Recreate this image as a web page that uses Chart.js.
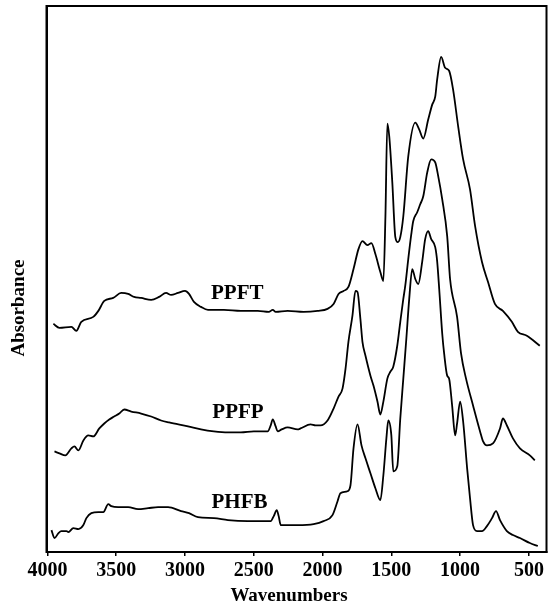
<!DOCTYPE html>
<html>
<head>
<meta charset="utf-8">
<script src="https://cdn.jsdelivr.net/npm/chart.js@4.4.1/dist/chart.umd.min.js"></script>
<style>
  html, body { margin: 0; padding: 0; background: #fff; }
  #spectra { display: block; }
</style>
</head>
<body>
<canvas id="spectra" width="551" height="604"></canvas>
<script>
// tick labels of the wavenumber axis
const wavenumberTicks = [4000, 3500, 3000, 2500, 2000, 1500, 1000, 500];

// PPFT spectrum (cm-1, absorbance in arbitrary offset units)
const ppftWave = [3957, 3913, 3826, 3790, 3754, 3667, 3630, 3587, 3522, 3464, 3413, 3370, 3319, 3246, 3188, 3138, 3101, 3051, 3000, 2971, 2935, 2884, 2833, 2717, 2594, 2471, 2391, 2362, 2341, 2254, 2138, 2036, 1964, 1920, 1884, 1848, 1812, 1775, 1739, 1710, 1674, 1645, 1616, 1580, 1558, 1543, 1529, 1515, 1493, 1471, 1453, 1435, 1413, 1377, 1326, 1297, 1268, 1232, 1203, 1181, 1167, 1138, 1109, 1080, 1051, 1014, 978, 928, 891, 841, 797, 747, 689, 624, 580, 515, 421];
const ppftAbs = [2.28, 2.24, 2.25, 2.21, 2.30, 2.35, 2.41, 2.51, 2.54, 2.59, 2.58, 2.55, 2.54, 2.52, 2.55, 2.59, 2.57, 2.59, 2.61, 2.58, 2.50, 2.45, 2.42, 2.42, 2.41, 2.41, 2.40, 2.42, 2.40, 2.41, 2.40, 2.41, 2.43, 2.48, 2.58, 2.61, 2.65, 2.83, 3.03, 3.11, 3.07, 3.09, 2.98, 2.80, 2.71, 3.36, 4.29, 4.16, 3.70, 3.15, 3.10, 3.15, 3.36, 3.96, 4.30, 4.23, 4.14, 4.33, 4.48, 4.56, 4.73, 4.96, 4.85, 4.82, 4.63, 4.26, 3.93, 3.63, 3.26, 2.90, 2.70, 2.48, 2.41, 2.30, 2.20, 2.16, 2.06];

// PPFP spectrum
const ppfpWave = [3949, 3913, 3870, 3826, 3804, 3775, 3739, 3703, 3667, 3623, 3587, 3551, 3515, 3478, 3442, 3391, 3319, 3246, 3174, 3116, 2978, 2884, 2790, 2688, 2594, 2500, 2399, 2377, 2362, 2341, 2326, 2297, 2254, 2181, 2160, 2087, 2051, 2015, 1964, 1920, 1884, 1855, 1833, 1812, 1783, 1761, 1746, 1725, 1710, 1688, 1652, 1630, 1601, 1580, 1558, 1529, 1507, 1486, 1457, 1435, 1413, 1399, 1377, 1355, 1341, 1312, 1290, 1268, 1239, 1210, 1181, 1159, 1130, 1094, 1073, 1022, 993, 957, 906, 855, 833, 805, 761, 710, 689, 660, 616, 565, 493, 457];
const ppfpAbs = [1.00, 0.98, 0.96, 1.03, 1.05, 1.01, 1.11, 1.16, 1.15, 1.23, 1.28, 1.32, 1.35, 1.38, 1.42, 1.40, 1.38, 1.35, 1.31, 1.29, 1.25, 1.22, 1.20, 1.19, 1.19, 1.20, 1.20, 1.26, 1.32, 1.25, 1.20, 1.22, 1.24, 1.22, 1.23, 1.27, 1.26, 1.26, 1.31, 1.43, 1.55, 1.63, 1.83, 2.10, 2.36, 2.61, 2.60, 2.33, 2.10, 1.96, 1.76, 1.66, 1.50, 1.37, 1.50, 1.73, 1.80, 1.85, 2.06, 2.30, 2.53, 2.66, 2.93, 3.18, 3.31, 3.40, 3.48, 3.56, 3.80, 3.93, 3.90, 3.76, 3.53, 3.16, 2.73, 2.35, 1.98, 1.73, 1.46, 1.20, 1.10, 1.06, 1.08, 1.23, 1.33, 1.26, 1.13, 1.03, 0.96, 0.91];

// PHFB spectrum
const phfbWave = [3971, 3949, 3920, 3899, 3862, 3848, 3812, 3775, 3739, 3717, 3681, 3630, 3594, 3558, 3536, 3486, 3413, 3341, 3268, 3196, 3123, 3029, 2971, 2906, 2790, 2688, 2544, 2377, 2355, 2333, 2319, 2304, 2254, 2181, 2065, 1993, 1928, 1891, 1870, 1819, 1797, 1775, 1746, 1717, 1688, 1652, 1616, 1580, 1558, 1536, 1522, 1500, 1486, 1457, 1435, 1413, 1391, 1370, 1348, 1326, 1304, 1275, 1254, 1232, 1210, 1181, 1167, 1152, 1130, 1116, 1094, 1080, 1058, 1036, 1022, 1000, 978, 949, 928, 906, 877, 841, 805, 768, 739, 710, 660, 616, 565, 493, 435];
const phfbAbs = [0.21, 0.13, 0.18, 0.20, 0.20, 0.19, 0.23, 0.22, 0.26, 0.33, 0.38, 0.39, 0.39, 0.47, 0.45, 0.44, 0.44, 0.42, 0.43, 0.44, 0.44, 0.40, 0.38, 0.34, 0.33, 0.31, 0.30, 0.30, 0.35, 0.41, 0.35, 0.26, 0.26, 0.26, 0.27, 0.30, 0.36, 0.50, 0.58, 0.60, 0.66, 1.03, 1.27, 1.06, 0.93, 0.78, 0.63, 0.51, 0.76, 1.13, 1.31, 1.16, 0.80, 0.85, 1.33, 1.73, 2.13, 2.53, 2.83, 2.73, 2.68, 2.91, 3.13, 3.21, 3.13, 3.05, 2.91, 2.63, 2.18, 1.98, 1.76, 1.73, 1.46, 1.16, 1.28, 1.50, 1.30, 0.83, 0.53, 0.26, 0.20, 0.20, 0.25, 0.33, 0.40, 0.31, 0.20, 0.16, 0.13, 0.08, 0.05];

// sample names written beside the traces
const sampleNames = ['PPFT', 'PPFP', 'PHFB'];
const nameWave = [2620, 2615, 2604];
const nameAbs = [2.585, 1.385, 0.49];

function toPoints(xs, ys) {
    var pts = [];
    for (var i = 0; i < xs.length; i++) {
        pts.push({ x: xs[i], y: ys[i] });
    }
    return pts;
}

function traceStyle(label, xs, ys) {
    return {
        label: label,
        data: toPoints(xs, ys),
        borderColor: '#000',
        borderWidth: 1.8,
        pointRadius: 0,
        fill: false,
        cubicInterpolationMode: 'monotone'
    };
}

const serif = "'Liberation Serif', 'DejaVu Serif', serif";
Chart.defaults.font.family = serif;
Chart.defaults.color = '#000';

const frameAndText = {
    id: 'frameAndText',
    afterDatasetsDraw(chart) {
        const ctx = chart.ctx;
        const a = chart.chartArea;
        const xs = chart.scales.x, ys = chart.scales.y;
        ctx.save();
        ctx.strokeStyle = '#000';
        ctx.lineWidth = 2;
        ctx.strokeRect(a.left, a.top, a.right - a.left, a.bottom - a.top);

        ctx.fillStyle = '#000';
        ctx.textAlign = 'center';
        ctx.textBaseline = 'middle';
        ctx.font = 'bold 21px ' + serif;
        for (var i = 0; i < sampleNames.length; i++) {
            ctx.fillText(sampleNames[i], xs.getPixelForValue(nameWave[i]), ys.getPixelForValue(nameAbs[i]));
        }

        ctx.font = 'bold 19px ' + serif;
        ctx.fillText('Wavenumbers', 289, 596);

        ctx.translate(19, 308);
        ctx.rotate(-Math.PI / 2);
        ctx.fillText('Absorbance', 0, 0);
        ctx.restore();
    }
};

new Chart(document.getElementById('spectra'), {
    type: 'line',
    data: {
        datasets: [
            traceStyle('PPFT', ppftWave, ppftAbs),
            traceStyle('PPFP', ppfpWave, ppfpAbs),
            traceStyle('PHFB', phfbWave, phfbAbs)
        ]
    },
    options: {
        responsive: false,
        animation: false,
        devicePixelRatio: 1,
        layout: { padding: { top: 6, right: 4.5, left: 0, bottom: 0 } },
        plugins: {
            legend: { display: false },
            tooltip: { enabled: false }
        },
        scales: {
            x: {
                type: 'linear',
                reverse: true,
                min: 372,
                max: 4007,
                afterBuildTicks: (scale) => {
                    scale.ticks = wavenumberTicks.map(v => ({ value: v }));
                },
                afterFit: (scale) => { scale.height = 52; },
                grid: {
                    display: true,
                    drawOnChartArea: false,
                    drawTicks: true,
                    tickLength: 4,
                    color: '#000',
                    lineWidth: 1.5
                },
                border: { display: true, color: '#000', width: 2 },
                ticks: {
                    font: { size: 20, weight: 'bold' },
                    color: '#000',
                    padding: 3,
                    maxRotation: 0,
                    autoSkip: false,
                    callback: (v) => String(v)
                }
            },
            y: {
                min: -0.01,
                max: 5.47,
                afterFit: (scale) => { scale.width = 46.5; },
                grid: { display: false },
                border: { display: true, color: '#000', width: 2 },
                ticks: { display: false }
            }
        }
    },
    plugins: [frameAndText]
});
</script>
</body>
</html>
